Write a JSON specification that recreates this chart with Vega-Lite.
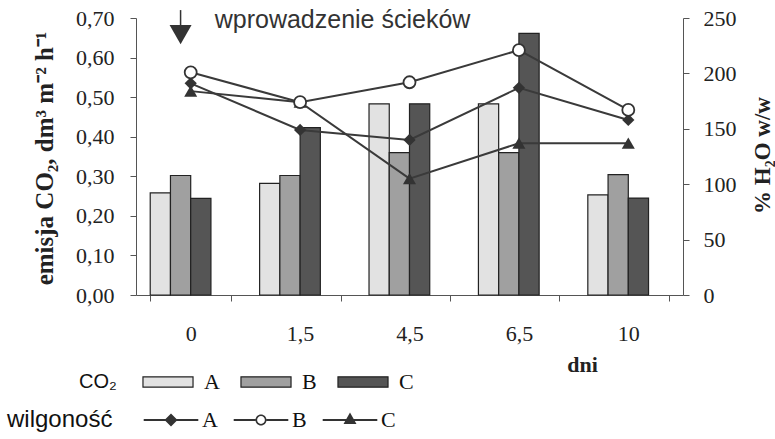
{
  "$schema": "https://vega.github.io/schema/vega-lite/v6.json",
  "width": 547,
  "height": 277,
  "autosize": {"type": "none"},
  "padding": {"left": 136, "top": 18, "right": 92, "bottom": 144},
  "background": "white",
  "config": {
    "view": {"stroke": null},
    "font": "Liberation Serif",
    "axis": {
      "grid": false,
      "labelFont": "Liberation Serif",
      "labelFontSize": 22,
      "labelColor": "#222",
      "domainColor": "#555",
      "tickColor": "#555",
      "titleFont": "Liberation Serif",
      "titleFontSize": 24,
      "titleFontWeight": "bold",
      "titleColor": "#222"
    },
    "legend": {
      "padding": 0,
      "titleFont": "Liberation Sans",
      "titleFontSize": 20,
      "titleFontWeight": "normal",
      "titleColor": "#111",
      "labelFont": "Liberation Serif",
      "labelFontSize": 22,
      "labelColor": "#111",
      "symbolSize": 169,
      "labelOffset": 25
    }
  },
  "datasets": {
    "co2": [
      {"dzien": "0", "probka": "A", "co2": 0.258},
      {"dzien": "0", "probka": "B", "co2": 0.302},
      {"dzien": "0", "probka": "C", "co2": 0.244},
      {"dzien": "1,5", "probka": "A", "co2": 0.282},
      {"dzien": "1,5", "probka": "B", "co2": 0.302},
      {"dzien": "1,5", "probka": "C", "co2": 0.423},
      {"dzien": "4,5", "probka": "A", "co2": 0.483},
      {"dzien": "4,5", "probka": "B", "co2": 0.36},
      {"dzien": "4,5", "probka": "C", "co2": 0.483},
      {"dzien": "6,5", "probka": "A", "co2": 0.483},
      {"dzien": "6,5", "probka": "B", "co2": 0.36},
      {"dzien": "6,5", "probka": "C", "co2": 0.661},
      {"dzien": "10", "probka": "A", "co2": 0.253},
      {"dzien": "10", "probka": "B", "co2": 0.304},
      {"dzien": "10", "probka": "C", "co2": 0.245}
    ],
    "wilg": [
      {"dzien": "0", "seria": "A", "wilg": 191},
      {"dzien": "1,5", "seria": "A", "wilg": 149},
      {"dzien": "4,5", "seria": "A", "wilg": 140},
      {"dzien": "6,5", "seria": "A", "wilg": 187},
      {"dzien": "10", "seria": "A", "wilg": 158},
      {"dzien": "0", "seria": "B", "wilg": 201},
      {"dzien": "1,5", "seria": "B", "wilg": 174},
      {"dzien": "4,5", "seria": "B", "wilg": 192},
      {"dzien": "6,5", "seria": "B", "wilg": 221},
      {"dzien": "10", "seria": "B", "wilg": 167},
      {"dzien": "0", "seria": "C", "wilg": 184},
      {"dzien": "1,5", "seria": "C", "wilg": 174},
      {"dzien": "4,5", "seria": "C", "wilg": 105},
      {"dzien": "6,5", "seria": "C", "wilg": 137},
      {"dzien": "10", "seria": "C", "wilg": 137}
    ],
    "strzalka": [{"dzien": "0", "grp": "B", "co2": 0.72, "koniec": 0.667}],
    "grot": [{"dzien": "0", "grp": "B", "co2": 0.658}],
    "opis": [{"dzien": "0", "tekst": "wprowadzenie ścieków", "co2": 0.695}]
  },
  "encoding": {
    "x": {
      "field": "dzien", "type": "nominal",
      "sort": ["0", "1,5", "4,5", "6,5", "10"],
      "scale": {"paddingInner": 0.26, "paddingOuter": 0.13},
      "axis": {
        "title": "dni", "labelAngle": 0, "tickBand": "extent",
        "tickSize": 6, "labelPadding": 22,
        "titleX": 446, "titleY": 69, "titleBaseline": "middle", "titleFontSize": 22
      }
    }
  },
  "layer": [
    {
      "encoding": {
        "y": {
          "field": "co2", "type": "quantitative",
          "scale": {"domain": [0, 0.7]},
          "axis": {
            "title": "emisja CO₂, dm³ m⁻² h⁻¹",
            "values": [0, 0.1, 0.2, 0.3, 0.4, 0.5, 0.6, 0.7],
            "labelExpr": "replace(format(datum.value, '.2f'), '.', ',')",
            "tickSize": 6, "labelPadding": 16,
            "titleAngle": -90, "titleX": -92, "titleY": 140,
            "titleBaseline": "middle", "titleAlign": "center", "titleFontSize": 25
          }
        }
      },
      "layer": [
        {
          "data": {"name": "co2"},
          "mark": {"type": "bar", "stroke": "#222", "strokeWidth": 1.2},
          "encoding": {
            "xOffset": {
              "field": "probka", "type": "nominal",
              "scale": {"domain": ["A", "B", "C", "D"], "paddingInner": 0, "paddingOuter": 0}
            },
            "fill": {
              "field": "probka", "type": "nominal",
              "scale": {"domain": ["A", "B", "C", "D"], "range": ["#e2e2e2", "#a0a0a0", "#555555", "#ffffff"]},
              "legend": {
                "title": "CO₂", "orient": "none", "legendX": -57, "legendY": 353,
                "direction": "horizontal", "titleOrient": "left", "titlePadding": 40,
                "titleBaseline": "middle", "columnPadding": 18,
                "symbolType": "M-3.85,-0.8H3.85V0.8H-3.85Z",
                "symbolStrokeColor": "#222", "symbolStrokeWidth": 1.2,
                "values": ["A", "B", "C"]
              }
            }
          }
        },
        {
          "data": {"name": "strzalka"},
          "mark": {"type": "rule", "color": "#333", "strokeWidth": 1.5},
          "encoding": {
            "xOffset": {"field": "grp", "type": "nominal"},
            "y2": {"field": "koniec"}
          }
        },
        {
          "data": {"name": "grot"},
          "mark": {"type": "point", "shape": "triangle-down", "filled": true, "color": "#333", "size": 484, "opacity": 1},
          "encoding": {
            "xOffset": {"field": "grp", "type": "nominal"}
          }
        },
        {
          "data": {"name": "opis"},
          "mark": {"type": "text", "font": "Liberation Sans", "fontSize": 25, "color": "#333", "align": "left", "baseline": "middle", "dx": 24},
          "encoding": {
            "text": {"field": "tekst"}
          }
        }
      ]
    },
    {
      "encoding": {
        "y": {
          "field": "wilg", "type": "quantitative",
          "scale": {"domain": [0, 250]},
          "axis": {
            "orient": "right", "title": "% H₂O w/w",
            "values": [0, 50, 100, 150, 200, 250],
            "tickSize": 6, "labelPadding": 14,
            "titleAngle": -90, "titleX": 79, "titleY": 137,
            "titleBaseline": "middle", "titleAlign": "center", "titleFontSize": 23
          }
        }
      },
      "layer": [
        {
          "data": {"name": "wilg"},
          "mark": {"type": "line", "color": "#3a3a3a", "strokeWidth": 2},
          "encoding": {
            "detail": {"field": "seria", "type": "nominal"}
          }
        },
        {
          "data": {"name": "wilg"},
          "transform": [{"filter": "datum.seria == 'A'"}],
          "mark": {"type": "point", "shape": "diamond", "filled": true, "color": "#333", "size": 150, "opacity": 1}
        },
        {
          "data": {"name": "wilg"},
          "transform": [{"filter": "datum.seria == 'C'"}],
          "mark": {"type": "point", "shape": "triangle-up", "filled": true, "color": "#333", "size": 170, "opacity": 1}
        },
        {
          "data": {"name": "wilg"},
          "transform": [{"filter": "datum.seria == 'B'"}],
          "mark": {"type": "point", "shape": "circle", "filled": false, "fill": "white", "stroke": "#333", "strokeWidth": 1.8, "size": 144, "opacity": 1}
        },
        {
          "data": {"name": "wilg"},
          "transform": [{"filter": "datum.wilg < 0"}],
          "mark": {"type": "point", "filled": true, "color": "#333"},
          "encoding": {
            "shape": {
              "field": "seria", "type": "nominal",
              "scale": {
                "domain": ["A", "B", "C"],
                "range": [
                  "M-4.2,-0.14H4.2V0.14H-4.2ZM0,-1L1,0L0,1L-1,0Z",
                  "M-4.2,-0.14H-0.85V0.14H-4.2ZM0.85,-0.14H4.2V0.14H0.85ZM-0.85,0A0.85,0.85 0 1,1 0.85,0A0.85,0.85 0 1,1 -0.85,0ZM-0.6,0A0.6,0.6 0 1,0 0.6,0A0.6,0.6 0 1,0 -0.6,0Z",
                  "M-4.2,-0.14H4.2V0.14H-4.2ZM0,-1.15L1,0.6L-1,0.6Z"
                ]
              },
              "legend": {
                "title": "wilgoność", "orient": "none", "legendX": -129, "legendY": 391,
                "direction": "horizontal", "titleOrient": "left", "titlePadding": 47,
                "titleBaseline": "middle", "titleFontSize": 24, "labelOffset": 20, "columnPadding": 15,
                "symbolFillColor": "#333", "symbolStrokeWidth": 0,
                "symbolOpacity": 1,
                "encode": {
                  "symbols": {
                    "update": {
                      "fill": {"value": "#333"},
                      "fillOpacity": {"value": 1},
                      "opacity": {"value": 1}
                    }
                  }
                }
              }
            }
          }
        }
      ]
    }
  ],
  "resolve": {"scale": {"y": "independent"}}
}
